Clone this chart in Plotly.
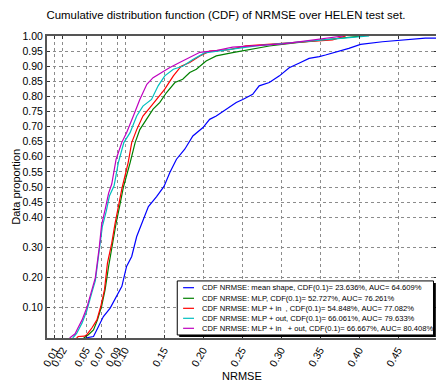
import plotly.graph_objects as go

### CDF curves (NRMSE, data proportion)
x_mean_shape = [0.049, 0.0596, 0.066, 0.0723, 0.081, 0.087, 0.096, 0.102, 0.1086, 0.115, 0.1234, 0.13, 0.1405,
                0.15, 0.1575, 0.166, 0.1766, 0.187, 0.200, 0.2085, 0.217, 0.23, 0.2426, 0.251, 0.2637, 0.272,
                0.285, 0.298, 0.3105, 0.323, 0.336, 0.349, 0.357, 0.387, 0.402, 0.43, 0.4637, 0.485, 0.5]
y_mean_shape = [0, 0.005, 0.038, 0.071, 0.099, 0.127, 0.171, 0.237, 0.27, 0.336, 0.391, 0.435, 0.468,
                0.502, 0.548, 0.592, 0.625, 0.669, 0.697, 0.724, 0.735, 0.758, 0.78, 0.79, 0.807, 0.835,
                0.846, 0.868, 0.895, 0.91, 0.926, 0.932, 0.937, 0.959, 0.972, 0.981, 0.987, 0.993, 0.993]

x_mlp = [0.047, 0.053, 0.0596, 0.0647, 0.070, 0.0745, 0.079, 0.084, 0.0886, 0.093, 0.098, 0.1065, 0.113, 0.119,
         0.128, 0.136, 0.1447, 0.153, 0.164, 0.174, 0.183, 0.1915, 0.204, 0.217, 0.238, 0.2595, 0.285, 0.32,
         0.36, 0.404]
y_mlp = [0, 0.011, 0.027, 0.06, 0.105, 0.16, 0.237, 0.314, 0.38, 0.435, 0.50, 0.58, 0.647, 0.69,
         0.725, 0.758, 0.78, 0.812, 0.846, 0.857, 0.879, 0.89, 0.917, 0.934, 0.945, 0.956, 0.967, 0.978,
         0.988, 1.0]

x_mlp_in = [0.038, 0.040, 0.048, 0.051, 0.0575, 0.064, 0.069, 0.0737, 0.0775, 0.083, 0.0873, 0.0915, 0.096,
            0.104, 0.1086, 0.115, 0.123, 0.132, 0.1405, 0.151, 0.162, 0.172, 0.183, 0.196, 0.2085, 0.234,
            0.255, 0.285, 0.323, 0.366, 0.383]
y_mlp_in = [0, 0.005, 0.006, 0.011, 0.033, 0.06, 0.105, 0.16, 0.248, 0.314, 0.38, 0.435, 0.495,
            0.58, 0.647, 0.69, 0.735, 0.763, 0.79, 0.824, 0.868, 0.90, 0.912, 0.934, 0.95, 0.955,
            0.967, 0.973, 0.98, 0.987, 1.0]

x_mlp_out = [0.033, 0.038, 0.045, 0.051, 0.0575, 0.062, 0.067, 0.071, 0.076, 0.080, 0.086, 0.0915, 0.0985,
             0.1065, 0.115, 0.123, 0.134, 0.1425, 0.151, 0.162, 0.174, 0.187, 0.202, 0.234, 0.268, 0.30,
             0.34, 0.38, 0.413]
y_mlp_out = [0, 0.015, 0.05, 0.09, 0.15, 0.19, 0.29, 0.37, 0.42, 0.47, 0.504, 0.581, 0.647,
             0.68, 0.735, 0.768, 0.79, 0.835, 0.868, 0.89, 0.90, 0.922, 0.944, 0.955, 0.967, 0.975,
             0.985, 0.993, 1.0]

x_mlp_in_out = [0.029, 0.036, 0.039, 0.045, 0.051, 0.0575, 0.062, 0.067, 0.070, 0.0745, 0.079, 0.083, 0.0886,
                0.0958, 0.102, 0.1107, 0.119, 0.128, 0.136, 0.147, 0.157, 0.170, 0.183, 0.196, 0.217, 0.238,
                0.268, 0.302, 0.32, 0.35, 0.38]
y_mlp_in_out = [0, 0.014, 0.03, 0.06, 0.10, 0.16, 0.20, 0.30, 0.375, 0.425, 0.48, 0.51, 0.592,
                0.647, 0.68, 0.735, 0.79, 0.84, 0.862, 0.879, 0.895, 0.912, 0.93, 0.946, 0.952, 0.963,
                0.968, 0.974, 0.98, 0.99, 1.0]

series_names = ["CDF NRMSE: mean shape, CDF(0.1)= 23.636%, AUC= 64.609%",
                "CDF NRMSE: MLP, CDF(0.1)= 52.727%, AUC= 76.261%",
                "CDF NRMSE: MLP + in\u00a0\u00a0, CDF(0.1)= 54.848%, AUC= 77.082%",
                "CDF NRMSE: MLP + out, CDF(0.1)= 66.061%, AUC= 79.633%",
                "CDF NRMSE: MLP + in\u00a0\u00a0\u00a0+ out, CDF(0.1)= 66.667%, AUC= 80.408%"]
series_colors = ["#0000ff", "#008000", "#ff0000", "#00bfbf", "#bf00bf"]

x_ticks = [0.01, 0.02, 0.05, 0.07, 0.09, 0.10, 0.15, 0.20, 0.25, 0.30, 0.35, 0.40, 0.45]
y_ticks = [0.10, 0.20, 0.30, 0.40, 0.45, 0.50, 0.55, 0.60, 0.65, 0.70, 0.75, 0.80, 0.85, 0.90, 0.95, 1.00]

xs = [x_mean_shape, x_mlp, x_mlp_in, x_mlp_out, x_mlp_in_out]
ys = [y_mean_shape, y_mlp, y_mlp_in, y_mlp_out, y_mlp_in_out]

fig = go.Figure()
for i in range(0, len(xs)):
    fig.add_trace(go.Scatter(x=xs[i], y=ys[i], mode="lines",
                             line=dict(color=series_colors[i], width=1.2),
                             name=series_names[i], showlegend=False))

# hand-made legend box (plotly's own legend rows are too tall for this size)
leg_shapes = [dict(type="rect", xref="paper", yref="paper", x0=0.339, x1=0.997, y0=0.003, y1=0.182,
                   fillcolor="black", line=dict(width=0), layer="above"),
              dict(type="rect", xref="paper", yref="paper", x0=0.334, x1=0.991, y0=0.010, y1=0.189,
                   fillcolor="white", line=dict(color="black", width=1), layer="above")]
leg_rows = [0.1666, 0.1315, 0.0983, 0.0652, 0.0321]
leg_notes = []
for i in range(0, len(series_names)):
    leg_shapes.append(dict(type="line", xref="paper", yref="paper", x0=0.349, x1=0.377,
                           y0=leg_rows[i], y1=leg_rows[i], layer="above",
                           line=dict(color=series_colors[i], width=1.2)))
    leg_notes.append(dict(xref="paper", yref="paper", x=0.392, y=leg_rows[i], text=series_names[i],
                          showarrow=False, xanchor="left", yanchor="middle",
                          font=dict(size=7.6, color="black")))

# axis titles placed by hand so the margins stay fixed
leg_notes.append(dict(xref="paper", yref="paper", x=0.5, y=-0.125, text="NRMSE", showarrow=False,
                      xanchor="center", yanchor="middle", font=dict(size=11, color="black")))
leg_notes.append(dict(xref="paper", yref="paper", x=-0.08, y=0.5, text="Data proportion", showarrow=False,
                      textangle=-90, xanchor="center", yanchor="middle", font=dict(size=11, color="black")))

axis_style = dict(showline=True, linewidth=2, linecolor="#555555", mirror="ticks",
                  ticks="inside", ticklen=3, tickcolor="#333333", automargin=False,
                  showgrid=True, gridcolor="#8c8c8c", gridwidth=1, griddash="dot",
                  zeroline=False, tickfont=dict(size=10.5, color="black"))

fig.update_xaxes(range=[0, 0.5], tickvals=x_ticks, ticktext=["%.2f" % v for v in x_ticks],
                 tickangle=-60, **axis_style)
fig.update_yaxes(range=[0, 1], tickvals=y_ticks, ticktext=["%.2f" % v for v in y_ticks],
                 **axis_style)

# the page body adds an 8px margin, so the figure is 8px smaller and the margins shifted
fig.update_layout(width=436, height=380,
                  margin=dict(l=39, r=7, t=28, b=50),
                  paper_bgcolor="white", plot_bgcolor="white",
                  font=dict(family="Liberation Sans, Arial, sans-serif", color="black"),
                  title=dict(text="Cumulative distribution function (CDF) of NRMSE over HELEN test set.",
                             x=0.5, xanchor="center", y=0.981, yanchor="middle",
                             font=dict(size=11.4, color="black")),
                  shapes=leg_shapes, annotations=leg_notes,
                  showlegend=False)

fig.write_html("out.html")
